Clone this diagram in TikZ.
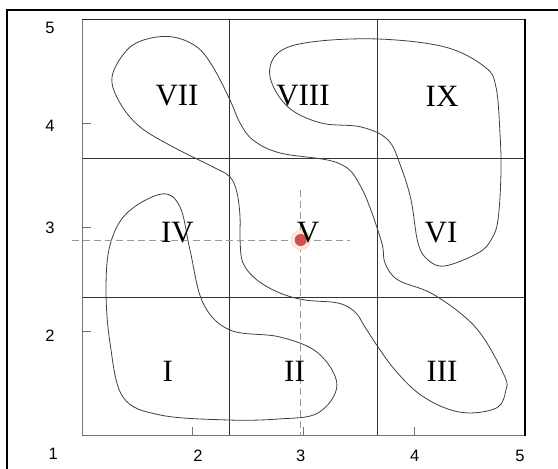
\documentclass[tikz,border=0pt]{standalone}
\usepackage{fontspec}
\setmainfont{Liberation Serif}
\newfontfamily\axisfont{Liberation Sans}
\definecolor{dotred}{HTML}{D2504A}

\begin{document}
\begin{tikzpicture}[x=110.75pt,y=104.2pt,
        contour/.style={draw=black!75,line width=0.8pt},
        regionlabel/.style={font=\fontsize{31}{31}\selectfont},
        axislabel/.style={font=\axisfont\fontsize{16.5}{16.5}\selectfont},
        guide/.style={draw=black!40,line width=0.6pt,dash pattern=on 7pt off 4pt}]
        \useasboundingbox (0.2596,0.6814) rectangle (5.298,5.1823);
        \draw [line width=2pt] (5.4,5.0835) -- (0.3255,5.0835) -- (0.3255,0.5);
        % grid of nine cells
        \draw [black!80,line width=0.7pt] (7/3,1) -- (7/3,5) (11/3,1) -- (11/3,5)
            (1,7/3) -- (5,7/3) (1,11/3) -- (5,11/3);
        \draw [black!55,line width=0.8pt] (5,1) -- (1,1) -- (1,5);
        \draw [black!85,line width=0.9pt] (1,5) -- (5,5);
        \draw [line width=1.6pt] (5,5) -- (5,1);
        \foreach \t in {2,3,4} {
            \draw [black!55,line width=0.8pt] (1,\t) -- (1.08,\t);
            \draw [black!55,line width=0.8pt] (\t,1) -- (\t,1.085);
        }
        % the three clusters
        \draw [contour] plot [smooth cycle,tension=0.6] coordinates {
            (1.722,3.321) (1.406,3.138) (1.253,2.831) (1.217,2.399) (1.253,1.891)
            (1.370,1.372) (1.704,1.200) (2.309,1.152) (2.770,1.161) (3.131,1.219)
            (3.302,1.488) (3.131,1.795) (2.788,1.948) (2.336,2.015) (2.093,2.274)
            (1.975,2.783) (1.885,3.196)};
        \draw [contour] plot [smooth cycle,tension=0.6] coordinates {
            (1.822,4.827) (2.038,4.731) (2.183,4.539) (2.336,4.223) (2.427,4.002)
            (2.544,3.839) (2.788,3.714) (3.312,3.618) (3.519,3.388) (3.700,2.879)
            (3.736,2.658) (3.853,2.495) (4.151,2.370) (4.458,2.140) (4.639,1.919)
            (4.819,1.564) (4.828,1.440) (4.756,1.276) (4.512,1.219) (4.278,1.267)
            (4.034,1.411) (3.826,1.631) (3.673,1.852) (3.555,2.044) (3.465,2.188)
            (3.312,2.274) (3.014,2.303) (2.788,2.370) (2.580,2.495) (2.454,2.658)
            (2.427,2.879) (2.427,3.100) (2.400,3.330) (2.336,3.484) (2.183,3.580)
            (1.822,3.772) (1.524,3.964) (1.343,4.194) (1.271,4.443) (1.406,4.702)
            (1.587,4.808)};
        \draw [contour] plot [smooth cycle,tension=0.6] coordinates {
            (2.698,4.443) (2.770,4.674) (3.068,4.779) (3.673,4.808) (4.278,4.731)
            (4.639,4.539) (4.738,4.347) (4.774,3.906) (4.783,3.522) (4.756,3.071)
            (4.693,2.879) (4.576,2.754) (4.278,2.630) (4.124,2.687) (4.034,2.850)
            (3.971,3.263) (3.880,3.580) (3.763,3.839) (3.519,3.964) (3.158,4.002)
            (2.860,4.155)};
        % query point
        \coordinate (query) at (2.975,2.879);
        \coordinate (hstart) at (0.91,2.879);
        \coordinate (hend) at (3.42,2.879);
        \coordinate (vtop) at (2.975,3.359);
        \coordinate (vbot) at (2.975,1);
        \draw [guide] (hstart) -- (hend);
        \draw [guide] (vtop) -- (vbot);
        \fill [red!10] (query) circle (10pt);
        \draw [orange!30,line width=0.6pt] (query) circle (9.5pt);
        \fill [dotred] (query) circle (6pt);
        % cell labels
        \path (1.858,4.261) node [regionlabel] (cellVII) {VII};
        \path (2.995,4.261) node [regionlabel] (cellVIII) {VIII};
        \path (4.251,4.261) node [regionlabel] (cellIX) {IX};
        \path (1.862,2.946) node [regionlabel] (cellIV) {IV};
        \path (3.041,2.946) node [regionlabel] (cellV) {V};
        \path (4.242,2.946) node [regionlabel] (cellVI) {VI};
        \path (1.774,1.622) node [regionlabel] (cellI) {I};
        \path (2.919,1.622) node [regionlabel] (cellII) {II};
        \path (4.251,1.622) node [regionlabel] (cellIII) {III};
        % axis numbers
        \path (0.711,4.914) node [axislabel] (ylabV) {5};
        \path (0.711,3.973) node [axislabel] (ylabIV) {4};
        \path (0.711,2.994) node [axislabel] (ylabIII) {3};
        \path (0.711,1.958) node [axislabel] (ylabII) {2};
        \path (0.741,0.825) node [axislabel] (corner) {1};
        \path (2.047,0.806) node [axislabel] (xlabII) {2};
        \path (2.975,0.806) node [axislabel] (xlabIII) {3};
        \path (4.004,0.806) node [axislabel] (xlabIV) {4};
        \path (4.955,0.806) node [axislabel] (xlabV) {5};
    \end{tikzpicture}
\end{document}
